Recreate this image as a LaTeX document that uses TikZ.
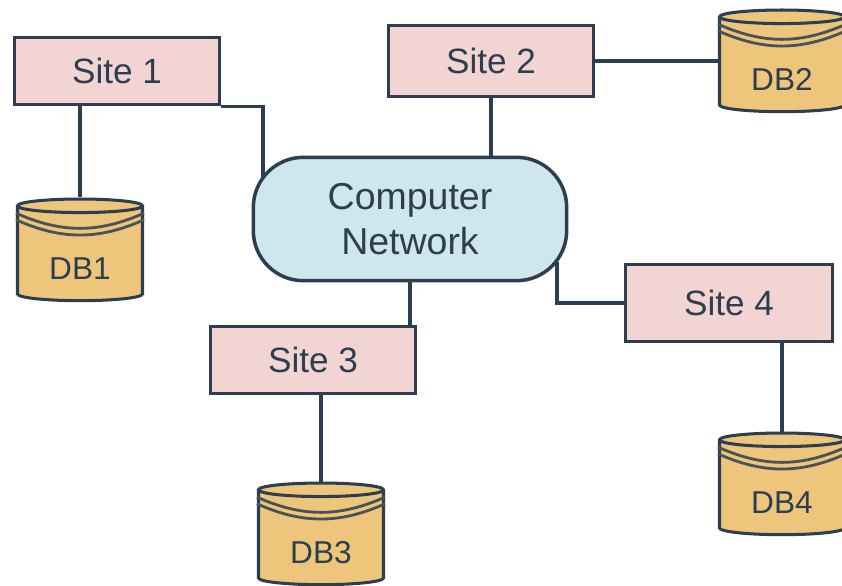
\documentclass[tikz,border=0pt]{standalone}
\usepackage{xcolor}
\usepackage{fontspec}
\setmainfont{Liberation Sans}
\usetikzlibrary{shapes.geometric}

\definecolor{inkline}{HTML}{2C3E50}
\definecolor{sitepink}{HTML}{F2D5D2}
\definecolor{netblue}{HTML}{CFE7EC}
\definecolor{dbgold}{HTML}{EDC67C}

\tikzset{
  sitebox/.style={draw=inkline, line width=3pt, fill=sitepink, text=inkline, minimum height=2cm, font=\fontsize{30}{33}\selectfont},
  dbdrum/.style={cylinder, shape border rotate=90, aspect=0.22, draw=inkline, line width=2.6pt, fill=dbgold, text=inkline, minimum width=3.75cm, minimum height=3.05cm, inner sep=0pt, font=\fontsize{27}{30}\selectfont},
  link/.style={draw=inkline, line width=2.6pt},
  dbband/.style={draw=inkline!85!dbgold, line width=2.4pt}
}

\newcommand{\dblid}[1]{
  \draw[dbband] ([yshift=-0.22cm]#1.before top) to[out=-24,in=-156] ([yshift=-0.22cm]#1.after top);
  \draw[dbband] ([yshift=-0.42cm]#1.before top) to[out=-24,in=-156] ([yshift=-0.42cm]#1.after top);
}
\newcommand{\dbname}[1]{\smash{\raisebox{-0.75cm}{#1}}}

\begin{document}
\begin{tikzpicture}[x=0.03cm,y=-0.03cm]
  \useasboundingbox (0,0) rectangle (842,585);

  % Sites
  \node[sitebox, minimum width=6.15cm] (site1) at (117,71) {Site 1};
  \node[sitebox, minimum width=6.15cm, minimum height=2.13cm] (site2) at (491,61) {Site 2};
  \node[sitebox, minimum width=6.15cm] (site3) at (313,360) {Site 3};
  \node[sitebox, minimum width=6.2cm, minimum height=2.3cm] (site4) at (729,303) {Site 4};

  % Databases
  \node[dbdrum] (db1) at (80,254) {\dbname{DB1}};
  \node[dbdrum] (db2) at (782,65) {\dbname{DB2}};
  \node[dbdrum] (db3) at (321,538) {\dbname{DB3}};
  \node[dbdrum] (db4) at (782,488) {\dbname{DB4}};
  \dblid{db1}
  \dblid{db2}
  \dblid{db3}
  \dblid{db4}

  % Network
  \node[draw=inkline, line width=3pt, fill=netblue, text=inkline, rounded corners=1.5cm, minimum width=9.4cm, minimum height=3.7cm, align=center, font=\fontsize{32}{38}\selectfont] (net) at (410,219) {Computer\\Network};
  \coordinate (netnw) at (263,178);
  \coordinate (netse) at (557,262);

  % Links
  \draw[link] (db1.north |- site1.south) -- (db1.north);
  \draw[link] (site1.south east) -| (netnw);
  \draw[link] (site2.south) -- (site2.south |- net.north);
  \draw[link] (site2.east) -- (site2.east -| db2.west);
  \draw[link] (net.south) -- (net.south |- site3.north);
  \draw[link] (db3.north |- site3.south) -- (db3.north);
  \draw[link] (netse) |- (site4.west);
  \draw[link] (db4.north |- site4.south) -- (db4.north);
\end{tikzpicture}
\end{document}
